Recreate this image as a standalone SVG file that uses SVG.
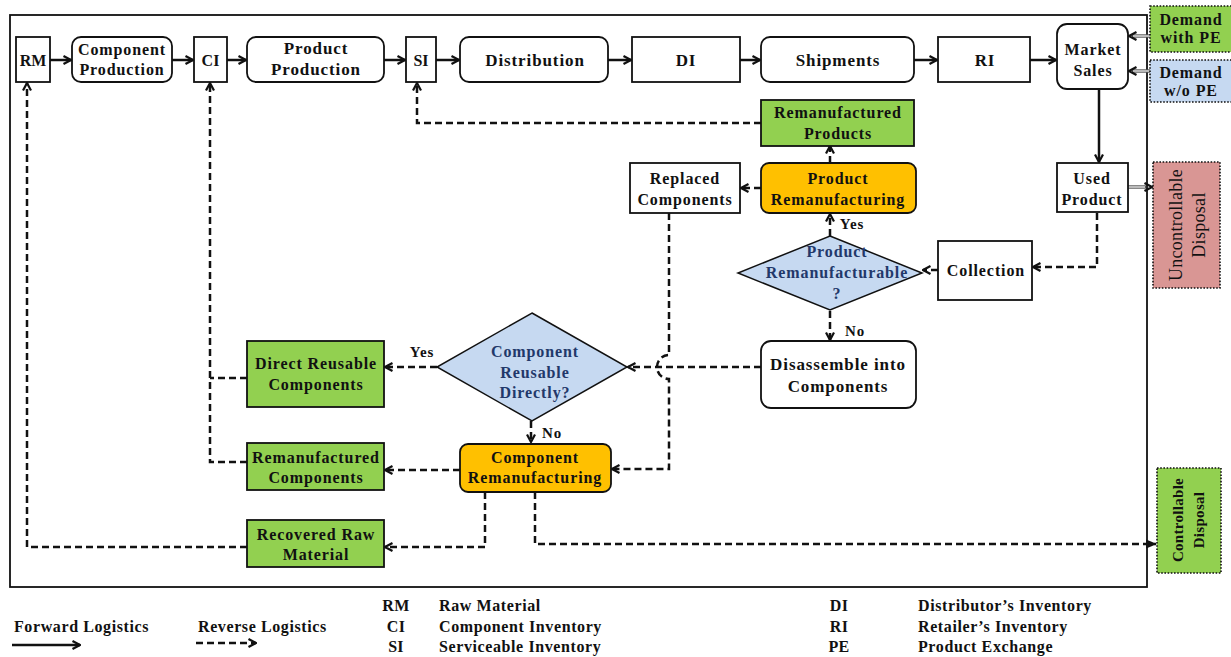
<svg xmlns="http://www.w3.org/2000/svg" width="1231" height="657" viewBox="0 0 1231 657">
<style>
text{font-family:"Liberation Serif","Times New Roman",serif;font-weight:bold;fill:#111;font-size:16px;letter-spacing:0.9px;text-anchor:middle}
.big{font-size:17px}
.sm{font-size:15px}
.ab{letter-spacing:0}
.q{fill:#22386a}
.leg{text-anchor:start;letter-spacing:0.6px}
.abbr{text-anchor:middle;letter-spacing:0.3px}
.unc{font-weight:normal;font-size:18px;letter-spacing:0.3px}
.con{font-size:15px;letter-spacing:0.3px}
.box{fill:#fff;stroke:#111;stroke-width:1.8}
.green{fill:#92d050;stroke:#111;stroke-width:1.8}
.orange{fill:#ffc000;stroke:#111;stroke-width:1.8}
.dia{fill:#c6d9f1;stroke:#111;stroke-width:1.5}
.dot{stroke:#111;stroke-width:1.6;stroke-dasharray:1.6 1.6}
.fwd{fill:none;stroke:#111;stroke-width:2.5}
.rev{fill:none;stroke:#111;stroke-width:2.5;stroke-dasharray:7 4}
.dbl{fill:none;stroke:#555;stroke-width:3.4}
.dbli{fill:none;stroke:#fff;stroke-width:1.2}
.frame{fill:none;stroke:#111;stroke-width:1.8}
</style>
<defs>
<marker id="ah" viewBox="0 0 10 10" refX="9" refY="5" markerWidth="10" markerHeight="10" markerUnits="userSpaceOnUse" orient="auto">
<path d="M1.5,1 L9,5 L1.5,9" fill="none" stroke="#111" stroke-width="2.2"/>
</marker>
<marker id="tri" viewBox="0 0 10 10" refX="9" refY="5" markerWidth="11" markerHeight="11" markerUnits="userSpaceOnUse" orient="auto">
<path d="M0,1 L10,5 L0,9 Z" fill="#111"/>
</marker>
</defs>
<rect width="1231" height="657" fill="#fff"/>
<rect class="frame" x="10" y="15" width="1137" height="572"/>

<g id="connectors">
<!-- forward -->
<path class="fwd" d="M50,60 H71" marker-end="url(#ah)"/>
<path class="fwd" d="M172,60 H193" marker-end="url(#ah)"/>
<path class="fwd" d="M227,60 H246" marker-end="url(#ah)"/>
<path class="fwd" d="M384,60 H405" marker-end="url(#ah)"/>
<path class="fwd" d="M436,60 H459" marker-end="url(#ah)"/>
<path class="fwd" d="M608,60 H631" marker-end="url(#ah)"/>
<path class="fwd" d="M740,60 H760" marker-end="url(#ah)"/>
<path class="fwd" d="M914,60 H937" marker-end="url(#ah)"/>
<path class="fwd" d="M1030,60 H1056" marker-end="url(#ah)"/>
<path class="fwd" d="M1099,89 V162" marker-end="url(#ah)"/>
<path class="dbl" d="M1150,36 H1132"/><path class="dbli" d="M1150,36 H1133"/>
<path d="M1135,36 H1129" fill="none" stroke="none" marker-end="url(#ah)"/>
<path class="dbl" d="M1150,71 H1132"/><path class="dbli" d="M1150,71 H1133"/>
<path d="M1135,71 H1129" fill="none" stroke="none" marker-end="url(#ah)"/>
<path class="dbl" d="M1128,187 H1146"/><path class="dbli" d="M1128,187 H1145"/>
<path d="M1146,187 H1152" fill="none" stroke="none" marker-end="url(#ah)"/>
<!-- reverse -->
<path class="rev" d="M1097,213 V267 H1033" marker-end="url(#ah)"/>
<path class="rev" d="M938,270 H923" marker-end="url(#ah)"/>
<path class="rev" d="M830,236 V214" marker-end="url(#ah)"/>
<path class="rev" d="M830,311 V340" marker-end="url(#ah)"/>
<path class="rev" d="M830,163 V146" marker-end="url(#ah)"/>
<path class="rev" d="M761,188 H741" marker-end="url(#ah)"/>
<path class="rev" d="M761,123 H417 V83" marker-end="url(#ah)"/>
<path class="rev" d="M669,213 V355 A12,12 0 0 0 669,379 V469 H612" marker-end="url(#ah)"/>
<path class="rev" d="M761,367 H628" marker-end="url(#ah)"/>
<path class="rev" d="M437,367 H385" marker-end="url(#ah)"/>
<path class="rev" d="M531,421 V442" marker-end="url(#ah)"/>
<path class="rev" d="M460,470 H385" marker-end="url(#ah)"/>
<path class="rev" d="M485,492 V547 H385" marker-end="url(#ah)"/>
<path class="rev" d="M535,492 V544 H1156" marker-end="url(#tri)"/>
<path class="rev" d="M247,547 H27 V83" marker-end="url(#ah)"/>
<path class="rev" d="M247,462 H210 V83" marker-end="url(#ah)"/>
<path class="rev" d="M247,378 H210"/>
</g>

<g id="RM"><rect class="box" x="16" y="37" width="34" height="45"/><text class="ab" x="33" y="65.5">RM</text></g>
<g id="ComponentProduction"><rect class="box" x="72" y="37" width="100" height="45" rx="9"/><text x="122" y="55">Component</text><text x="122" y="75">Production</text></g>
<g id="CI"><rect class="box" x="194" y="37" width="33" height="45"/><text class="ab" x="210.5" y="65.5">CI</text></g>
<g id="ProductProduction"><rect class="box" x="247" y="37" width="137" height="45" rx="9"/><text class="big" x="316" y="54">Product</text><text class="big" x="316" y="75">Production</text></g>
<g id="SI"><rect class="box" x="406" y="37" width="30" height="45"/><text class="ab" x="421" y="65.5">SI</text></g>
<g id="Distribution"><rect class="box" x="460" y="37" width="148" height="45" rx="9"/><text class="big" x="535" y="66">Distribution</text></g>
<g id="DI"><rect class="box" x="632" y="37" width="108" height="45"/><text class="big" x="686" y="66">DI</text></g>
<g id="Shipments"><rect class="box" x="761" y="37" width="153" height="45" rx="9"/><text class="big" x="838" y="66">Shipments</text></g>
<g id="RI"><rect class="box" x="938" y="37" width="92" height="45"/><text class="big" x="985" y="66">RI</text></g>
<g id="MarketSales"><rect class="box" x="1057" y="24" width="71" height="65" rx="10"/><text x="1093" y="55">Market</text><text x="1093" y="76">Sales</text></g>
<g id="DemandWithPE"><rect class="dot" fill="#92d050" x="1150" y="6" width="84" height="46"/><text x="1191" y="25">Demand</text><text x="1191" y="43">with PE</text></g>
<g id="DemandWoPE"><rect class="dot" fill="#c6d9f1" x="1150" y="60" width="84" height="42"/><text x="1191" y="78">Demand</text><text x="1191" y="96">w/o PE</text></g>

<g id="RemanufacturedProducts"><rect class="green" x="761" y="100" width="153" height="46"/><text x="838" y="118">Remanufactured</text><text x="838" y="139">Products</text></g>
<g id="ProductRemanufacturing"><rect class="orange" x="761" y="163" width="155" height="50" rx="8"/><text x="838" y="184">Product</text><text x="838" y="205">Remanufacturing</text></g>
<g id="ReplacedComponents"><rect class="box" x="630" y="163" width="110" height="50"/><text x="685" y="184">Replaced</text><text x="685" y="205">Components</text></g>
<g id="UsedProduct"><rect class="box" x="1057" y="163" width="71" height="49"/><text x="1092" y="184">Used</text><text x="1092" y="205">Product</text></g>
<g id="UncontrollableDisposal"><rect class="dot" fill="#d99694" x="1153" y="162" width="67" height="126"/><text class="unc" transform="translate(1182,225) rotate(-90)">Uncontrollable</text><text class="unc" transform="translate(1205,225) rotate(-90)">Disposal</text></g>
<g id="ProductRemanufacturable"><polygon class="dia" points="830,236 922,273 830,310 738,273"/><text class="q" x="837" y="257">Product</text><text class="q" x="837" y="278">Remanufacturable</text><text class="q" x="837" y="299">?</text></g>
<g id="Collection"><rect class="box" x="938" y="241" width="94" height="59"/><text x="986" y="276">Collection</text></g>
<g id="Disassemble"><rect class="box" x="761" y="341" width="155" height="67" rx="10"/><text class="big" x="838" y="370">Disassemble into</text><text class="big" x="838" y="392">Components</text></g>
<g id="ComponentReusable"><polygon class="dia" points="532,313 627,367 532,421 437,367"/><text class="q" x="535" y="357">Component</text><text class="q" x="535" y="378">Reusable</text><text class="q" x="535" y="398">Directly?</text></g>
<g id="DirectReusable"><rect class="green" x="247" y="341" width="137" height="66"/><text x="316" y="369">Direct Reusable</text><text x="316" y="390">Components</text></g>
<g id="RemanufacturedComponents"><rect class="green" x="247" y="443" width="137" height="47"/><text x="316" y="463">Remanufactured</text><text x="316" y="483">Components</text></g>
<g id="ComponentRemanufacturing"><rect class="orange" x="460" y="444" width="151" height="48" rx="8"/><text x="535" y="463">Component</text><text x="535" y="483">Remanufacturing</text></g>
<g id="RecoveredRawMaterial"><rect class="green" x="247" y="520" width="137" height="47"/><text x="316" y="540">Recovered Raw</text><text x="316" y="560">Material</text></g>
<g id="ControllableDisposal"><rect class="dot" fill="#92d050" x="1157" y="468" width="64" height="105"/><text class="con" transform="translate(1183,520) rotate(-90)">Controllable</text><text class="con" transform="translate(1204,520) rotate(-90)">Disposal</text></g>

<g id="labels">
<text class="sm" x="852" y="229">Yes</text>
<text class="sm" x="855" y="336">No</text>
<text class="sm" x="422" y="357">Yes</text>
<text class="sm" x="552" y="438">No</text>
</g>

<g id="legend">
<text class="leg" x="14" y="632">Forward Logistics</text>
<path class="fwd" d="M12,645 H80" marker-end="url(#ah)"/>
<text class="leg" x="198" y="632">Reverse Logistics</text>
<path class="rev" d="M196,643 H256" marker-end="url(#ah)"/>
<text class="abbr" x="396" y="611">RM</text><text class="leg" x="439" y="611">Raw Material</text>
<text class="abbr" x="396" y="632">CI</text><text class="leg" x="439" y="632">Component Inventory</text>
<text class="abbr" x="396" y="652">SI</text><text class="leg" x="439" y="652">Serviceable Inventory</text>
<text class="abbr" x="839" y="611">DI</text><text class="leg" x="918" y="611">Distributor’s Inventory</text>
<text class="abbr" x="839" y="632">RI</text><text class="leg" x="918" y="632">Retailer’s Inventory</text>
<text class="abbr" x="839" y="652">PE</text><text class="leg" x="918" y="652">Product Exchange</text>
</g>
</svg>
